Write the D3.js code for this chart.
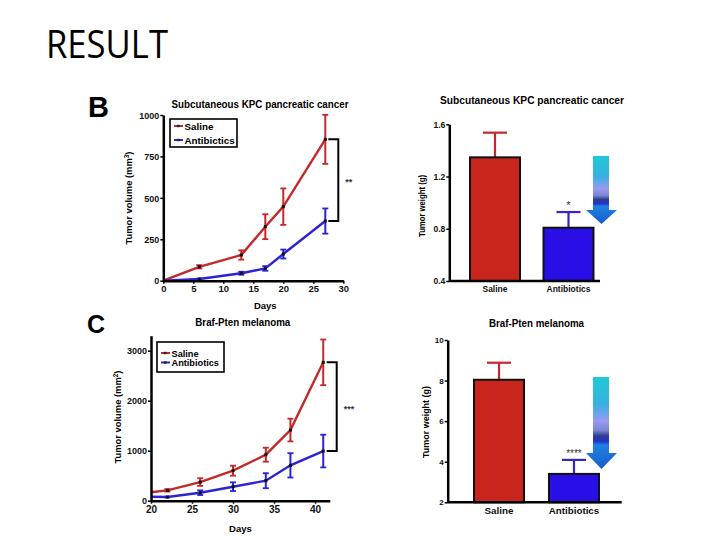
<!DOCTYPE html>
<html><head><meta charset="utf-8">
<script src="https://cdn.jsdelivr.net/npm/d3@7"></script>
<style>
body{margin:0;background:#fff;}
svg{display:block;}
text{font-family:"Liberation Sans",Arial,sans-serif;}
</style></head>
<body>
<svg id="c" width="720" height="540"></svg>
<script>
// ---------- DATA ----------
const seriesNames = ["Saline", "Antibiotics"];
const kpcLegend = ["Saline", "Antibictics"];
const kpcDays = [0, 6, 13, 17, 20, 27];
const kpcSaline = [0, 84, 155, 326, 447, 853];
const kpcSalineErr = [0, 10, 28, 75, 110, 148];
const kpcAnti = [0, 10, 45, 74, 161, 360];
const kpcAntiErr = [0, 3, 9, 14, 27, 76];
const kpcXTicks = [0, 5, 10, 15, 20, 25, 30];
const kpcYTicks = [0, 250, 500, 750, 1000];

const melDays = [20, 22, 26, 30, 34, 37, 41];
const melSaline = [170, 207, 373, 600, 920, 1413, 2767];
const melSalineErr = [0, 25, 77, 100, 140, 227, 457];
const melAnti = [80, 73, 160, 280, 400, 707, 993];
const melAntiErr = [0, 8, 47, 87, 150, 243, 327];
const melXTicks = [20, 25, 30, 35, 40];
const melYTicks = [0, 1000, 2000, 3000];

const kpcWeight = [1.347, 0.808];
const kpcWeightErr = [0.189, 0.12];
const kpcWeightTicks = [0.4, 0.8, 1.2, 1.6];
const melWeight = [8.04, 3.40];
const melWeightErr = [0.84, 0.69];
const melWeightTicks = [2, 4, 6, 8, 10];

// ---------- STYLE ----------
const RED = "#c4282a", BLUE = "#2b23d6";
const BARRED = "#c8261c", BARBLUE = "#2a0ee6";
const svg = d3.select("#c");

svg.append("text").attr("x", 46).attr("y", 58)
  .style("font-family", "'Open Sans',sans-serif").style("font-size", "39px")
  .attr("textLength", 122).attr("lengthAdjust", "spacingAndGlyphs")
  .text("RESULT");

// gradient for arrows
const defs = svg.append("defs");
const g = defs.append("linearGradient").attr("id", "arrowGrad")
  .attr("x1", 0).attr("y1", 0).attr("x2", 0).attr("y2", 1);
[[0, "#1dcad6"], [0.3, "#38b0e2"], [0.48, "#9a9af0"], [0.58, "#7a86d6"], [0.64, "#2c3f8c"],
 [0.7, "#2432cf"], [0.74, "#1e82e0"], [1, "#1a5acc"]]
  .forEach(([o, c]) => g.append("stop").attr("offset", o).attr("stop-color", c));

function arrow(top, headY, tip) {
  const p = d3.path();
  p.moveTo(593, top); p.lineTo(609, top); p.lineTo(609, headY); p.lineTo(617, headY);
  p.lineTo(601.5, tip); p.lineTo(586, headY); p.lineTo(593, headY); p.closePath();
  svg.append("path").attr("d", p.toString()).attr("fill", "url(#arrowGrad)");
}

function styleAxis(sel, fs) {
  sel.select(".domain").attr("stroke", "#000").attr("stroke-width", 2.5);
  sel.selectAll(".tick line").attr("stroke", "#000").attr("stroke-width", 1.5);
  sel.selectAll(".tick text").style("font-size", fs + "px").style("font-weight", "bold")
    .attr("fill", "#111");
}

function lineChart(o) {
  const x = d3.scaleLinear().domain(o.xDomain).range(o.xRange);
  const y = d3.scaleLinear().domain(o.yDomain).range(o.yRange);
  const gg = svg.append("g");
  const line = d3.line().x((d) => x(d[0])).y((d) => y(d[1]));
  o.series.forEach((s) => {
    const pts = o.days.map((d, i) => [d, s.vals[i], s.err[i]]);
    gg.append("path").datum(pts).attr("d", line).attr("fill", "none")
      .attr("stroke", s.color).attr("stroke-width", 2.4);
    pts.forEach((p) => {
      if (p[2] > 0) {
        gg.append("line").attr("x1", x(p[0])).attr("x2", x(p[0]))
          .attr("y1", y(p[1] - p[2])).attr("y2", y(p[1] + p[2]))
          .attr("stroke", s.color).attr("stroke-width", 2);
        [p[1] - p[2], p[1] + p[2]].forEach((v) => gg.append("line")
          .attr("x1", x(p[0]) - 3).attr("x2", x(p[0]) + 3).attr("y1", y(v)).attr("y2", y(v))
          .attr("stroke", s.color).attr("stroke-width", 1.8));
      }
      if (p[0] !== o.xDomain[0]) {
        gg.append("rect").attr("x", x(p[0]) - 1.5).attr("y", y(p[1]) - 1.5)
          .attr("width", 3).attr("height", 3).attr("fill", "#111");
      }
    });
  });
  const ax = gg.append("g").attr("transform", `translate(0,${o.yRange[0]})`)
    .call(d3.axisBottom(x).tickValues(o.xTicks).tickSize(3).tickSizeOuter(0).tickPadding(2)
      .tickFormat(d3.format("d")));
  styleAxis(ax, o.xfs);
  const ay = gg.append("g").attr("transform", `translate(${o.xRange[0]},0)`)
    .call(d3.axisLeft(y).tickValues(o.yTicks).tickSize(3).tickSizeOuter(0).tickPadding(1)
      .tickFormat(d3.format("d")));
  styleAxis(ay, o.yfs);
  ay.selectAll(".tick text").attr("dy", "0.35em");
  // bracket
  const bx = o.bracketX;
  const yA = y(o.series[0].vals[o.days.length - 1]);
  const yB = y(o.series[1].vals[o.days.length - 1]);
  gg.append("path").attr("d", `M${bx - 10},${yA}H${bx}V${yB}H${bx - 10}`)
    .attr("fill", "none").attr("stroke", "#000").attr("stroke-width", 2);
  gg.append("text").attr("x", bx + 7).attr("y", (yA + yB) / 2 + 5).text(o.stars)
    .style("font-size", "9px").style("font-weight", "bold").attr("fill", "#333");
  // title
  gg.append("text").attr("x", o.title[1]).attr("y", o.title[2]).text(o.title[0])
    .style("font-size", "10px").style("font-weight", "bold")
    .attr("textLength", o.title[3]).attr("lengthAdjust", "spacingAndGlyphs");
  // labels
  gg.append("text").attr("x", d3.mean(o.xRange) + o.daysDx).attr("y", o.daysY).text("Days")
    .attr("text-anchor", "middle").style("font-size", "9.5px").style("font-weight", "bold");
  gg.append("text").attr("transform", `translate(${o.ylab[0]},${o.ylab[1]}) rotate(-90)`)
    .attr("text-anchor", "middle").style("font-size", "9.5px").style("font-weight", "bold")
    .attr("textLength", o.ylab[2]).attr("lengthAdjust", "spacingAndGlyphs")
    .html(o.ylabText);
  // legend
  const L = o.legend;
  gg.append("rect").attr("x", L[0]).attr("y", L[1]).attr("width", L[2]).attr("height", L[3])
    .attr("fill", "#fff").attr("stroke", "#000").attr("stroke-width", 1.6);
  o.series.forEach((s, i) => {
    const cy = L[1] + L[4] + i * L[5];
    gg.append("line").attr("x1", L[0] + 4).attr("x2", L[0] + 13).attr("y1", cy).attr("y2", cy)
      .attr("stroke", s.color).attr("stroke-width", 2);
    gg.append("rect").attr("x", L[0] + 7).attr("y", cy - 1.2).attr("width", 2.5).attr("height", 2.4)
      .attr("fill", "#222");
    gg.append("text").attr("x", L[0] + 14.5).attr("y", cy + 3.5).text(o.legendNames[i])
      .style("font-size", L[6] + "px").style("font-weight", "bold");
  });
}

function barChart(o) {
  const x = d3.scaleBand().domain(seriesNames).range(o.xRange)
    .paddingInner(o.pi).paddingOuter(o.po);
  const y = d3.scaleLinear().domain(o.yDomain).range(o.yRange);
  const gg = svg.append("g");
  const cols = [[BARRED, RED], [BARBLUE, "#3a22c8"]];
  seriesNames.forEach((n, i) => {
    const cx = x(n) + x.bandwidth() / 2;
    gg.append("line").attr("x1", cx).attr("x2", cx).attr("y1", y(o.vals[i]))
      .attr("y2", y(o.vals[i] + o.err[i])).attr("stroke", cols[i][1]).attr("stroke-width", 2.2);
    gg.append("line").attr("x1", cx - 12).attr("x2", cx + 12)
      .attr("y1", y(o.vals[i] + o.err[i])).attr("y2", y(o.vals[i] + o.err[i]))
      .attr("stroke", cols[i][1]).attr("stroke-width", 2.2);
    gg.append("rect").attr("x", x(n)).attr("y", y(o.vals[i])).attr("width", x.bandwidth())
      .attr("height", o.yRange[0] - y(o.vals[i])).attr("fill", cols[i][0])
      .attr("stroke", "#111").attr("stroke-width", 2);
  });
  const ay = gg.append("g").attr("transform", `translate(${o.axisX},0)`)
    .call(d3.axisLeft(y).tickValues(o.yTicks).tickSize(3).tickSizeOuter(0).tickPadding(1)
      .tickFormat(o.fmt));
  styleAxis(ay, o.yfs);
  gg.append("line").attr("x1", o.axisX).attr("x2", o.axisEnd).attr("y1", o.yRange[0])
    .attr("y2", o.yRange[0]).attr("stroke", "#000").attr("stroke-width", 2.5);
  seriesNames.forEach((n) => gg.append("text").attr("x", x(n) + x.bandwidth() / 2)
    .attr("y", o.labY).attr("text-anchor", "middle").text(n)
    .style("font-size", o.xfs + "px").style("font-weight", "bold").attr("fill", "#111"));
  const ci = x("Antibiotics") + x.bandwidth() / 2;
  gg.append("text").attr("x", ci).attr("y", y(o.vals[1] + o.err[1]) - 3)
    .attr("text-anchor", "middle").text(o.stars).style("font-size", o.starFs + "px")
    .attr("fill", "#333");
  gg.append("text").attr("x", o.title[1]).attr("y", o.title[2]).text(o.title[0])
    .style("font-size", "10px").style("font-weight", "bold")
    .attr("textLength", o.title[3]).attr("lengthAdjust", "spacingAndGlyphs");
  gg.append("text").attr("transform", `translate(${o.ylab[0]},${o.ylab[1]}) rotate(-90)`)
    .attr("text-anchor", "middle").style("font-size", "9px").style("font-weight", "bold")
    .attr("textLength", o.ylab[2]).attr("lengthAdjust", "spacingAndGlyphs")
    .text("Tumor weight  (g)");
}

// panel letters
svg.append("text").attr("x", 88).attr("y", 117).text("B")
  .style("font-size", "29px").style("font-weight", "bold");
svg.append("text").attr("x", 87).attr("y", 333).text("C")
  .style("font-size", "25px").style("font-weight", "bold");

lineChart({
  xDomain: [0, 30], xRange: [163.3, 343.3], yDomain: [0, 1000], yRange: [280.7, 115],
  days: kpcDays, xTicks: kpcXTicks, yTicks: kpcYTicks, xfs: 9.5, yfs: 9,
  series: [{ vals: kpcSaline, err: kpcSalineErr, color: RED },
           { vals: kpcAnti, err: kpcAntiErr, color: BLUE }],
  bracketX: 338.3, stars: "**",
  title: ["Subcutaneous KPC pancreatic cancer", 171.5, 108, 177],
  daysY: 309, daysDx: 12,
  ylab: [132, 198, 93], ylabText: "Tumor volume (mm<tspan dy='-3' font-size='6.5'>3</tspan><tspan dy='3'>)</tspan>",
  legend: [170, 119, 67, 28, 7, 14, 9.8], legendNames: kpcLegend
});

lineChart({
  xDomain: [20, 41.8], xRange: [151, 329.8], yDomain: [0, 3300], yRange: [500.7, 335.7],
  days: melDays, xTicks: melXTicks, yTicks: melYTicks, xfs: 10, yfs: 9,
  series: [{ vals: melSaline, err: melSalineErr, color: RED },
           { vals: melAnti, err: melAntiErr, color: BLUE }],
  bracketX: 336.7, stars: "***",
  title: ["Braf-Pten melanoma", 195.3, 326, 95],
  daysY: 532, daysDx: 0,
  ylab: [121, 417, 93], ylabText: "Tumor volume (mm<tspan dy='-3' font-size='6.5'>2</tspan><tspan dy='3'>)</tspan>",
  legend: [157, 342, 67, 30, 11, 9.5, 9.2], legendNames: seriesNames
});

barChart({
  xRange: [458.25, 605.25], pi: 0.32, po: 0.16, yDomain: [0.4, 1.6], yRange: [281, 124.3],
  vals: kpcWeight, err: kpcWeightErr, yTicks: kpcWeightTicks, fmt: d3.format(".1f"),
  axisX: 449.3, axisEnd: 600, yfs: 8.5, xfs: 8.5, labY: 292, stars: "*", starFs: 11,
  title: ["Subcutaneous KPC pancreatic cancer", 440, 104, 184],
  ylab: [424.5, 206, 62]
});

barChart({
  xRange: [461.5, 611.5], pi: 0.333, po: 0.167, yDomain: [2, 10], yRange: [502.3, 340],
  vals: melWeight, err: melWeightErr, yTicks: melWeightTicks, fmt: d3.format("d"),
  axisX: 447.7, axisEnd: 621.7, yfs: 8, xfs: 9.8, labY: 514, stars: "****", starFs: 10,
  title: ["Braf-Pten melanoma", 489, 327, 95],
  ylab: [429, 422, 72]
});

arrow(156, 210, 224);
arrow(377, 453, 469);
</script>
</body></html>
